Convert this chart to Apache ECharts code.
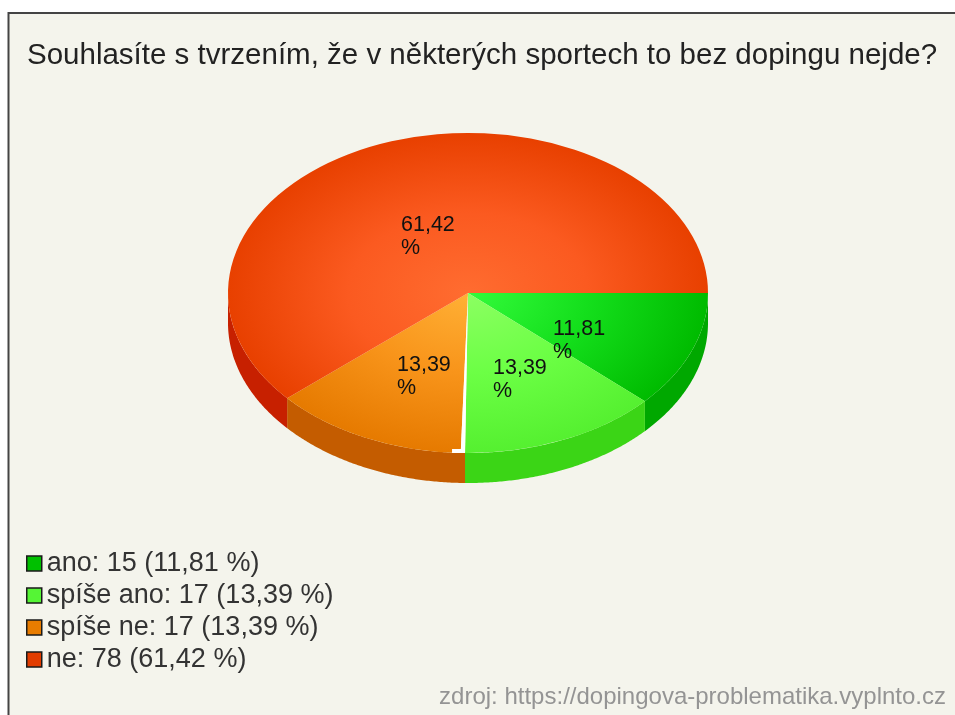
<!DOCTYPE html>
<html><head><meta charset="utf-8">
<style>html,body{margin:0;padding:0;background:#fff}#c{width:955px;height:715px}</style>
<script src="https://cdn.jsdelivr.net/npm/echarts@6/dist/echarts.min.js"></script>
</head><body><div id="c"></div>
<script>
const titleText = 'Souhlasíte s tvrzením, že v některých sportech to bez dopingu nejde?';
const sourceText = 'zdroj: https://dopingova-problematika.vyplnto.cz';
const categories = ['ano', 'spíše ano', 'spíše ne', 'ne'];
const values = [15, 17, 17, 78];
const percents = ['11,81', '13,39', '13,39', '61,42'];

const swatch = ['#00c000', '#55f535', '#e87c00', '#e23c00'];
const topInner = ['#33fb3b', '#8cff62', '#ffb035', '#ff6c30'];
const topMid = ['#14df1c', '#6cff45', '#f8941a', '#fb5a20'];
const topOuter = ['#00bb00', '#55f030', '#e67a00', '#e84000'];
const wall = ['#00a800', '#3bd516', '#c45c00', '#c72000'];

const cx = 468, cy = 293, rx = 240, ry = 160, depth = 30;
const labelAt = [[553, 341], [493, 380], [397, 377], [401, 237]];
const total = values.reduce((a, b) => a + b, 0);
let run = 0;
const spans = values.map(v => { const s = run / total * 2 * Math.PI; run += v; return [s, run / total * 2 * Math.PI]; });

function renderSlice(i) {
  return function () {
    let [a0, a1] = spans[i];
    const children = [];
    const w0 = a0, w1 = Math.min(a1, Math.PI);
    if (w1 > w0) {
      const up = [], down = [];
      for (let a = w0; a < w1; a += 0.008) {
        up.push([cx + rx * Math.cos(a), cy + ry * Math.sin(a)]);
        down.unshift([cx + rx * Math.cos(a), cy + depth + ry * Math.sin(a)]);
      }
      up.push([cx + rx * Math.cos(w1), cy + ry * Math.sin(w1)]);
      down.unshift([cx + rx * Math.cos(w1), cy + depth + ry * Math.sin(w1)]);
      children.push({ type: 'polygon', z2: 1, shape: { points: up.concat(down) }, style: { fill: wall[i] } });
    }
    const gap = i === 2 ? 0.018 : 0;
    children.push({
      type: 'sector', z2: 2, x: cx, y: cy, scaleY: ry / rx,
      shape: { cx: 0, cy: 0, r0: 0, r: rx, startAngle: a0 + gap, endAngle: a1, clockwise: true },
      style: { fill: new echarts.graphic.RadialGradient(0, 0, rx, [
        { offset: 0, color: topInner[i] }, { offset: 0.5, color: topMid[i] }, { offset: 1, color: topOuter[i] }], true) }
    });
    if (i === 2) {
      const ex = cx + rx * Math.cos(a0), ey = cy + ry * Math.sin(a0);
      children.push({ type: 'sector', z2: 2, x: cx, y: cy, scaleY: ry / rx,
        shape: { cx: 0, cy: 0, r0: 0, r: rx - 1, startAngle: a0, endAngle: a0 + gap, clockwise: true },
        style: { fill: '#ffffff' } });
      children.push({ type: 'rect', z2: 3, shape: { x: ex - 13, y: ey - 4, width: 13, height: 4 }, style: { fill: '#ffffff' } });
    }
    children.push({
      type: 'text', z2: 5, x: labelAt[i][0], y: labelAt[i][1],
      style: { text: percents[i] + '\n%', fill: '#111111', font: '21.5px "Liberation Sans"', lineHeight: 23, align: 'left', verticalAlign: 'middle' }
    });
    return { type: 'group', children };
  };
}

const legendNames = categories.map((c, i) => `${c}: ${values[i]} (${percents[i]} %)`);
const chart = echarts.init(document.getElementById('c'), null, { renderer: 'canvas' });
chart.setOption({
  animation: false,
  backgroundColor: '#ffffff',
  title: { text: titleText, left: 27, top: 41, padding: 0, textStyle: { fontFamily: 'Liberation Sans', fontSize: 29.5, fontWeight: 'normal', color: '#222222' } },
  legend: {
    orient: 'vertical', left: 26, top: 550, itemWidth: 15, itemHeight: 15, itemGap: 5, selectedMode: false,
    icon: 'rect', padding: 0,
    textStyle: { fontFamily: 'Liberation Sans', fontSize: 27, color: '#333333', padding: [0, 0, 0, 0], lineHeight: 26 },
    data: legendNames.map((n, i) => ({ name: n, itemStyle: { color: swatch[i], borderColor: '#1a1a1a', borderWidth: 1.5 } }))
  },
  graphic: [
    { type: 'rect', z: -1, shape: { x: 8.5, y: 13, width: 960, height: 720 }, style: { fill: '#f4f4ec', stroke: '#444444', lineWidth: 2 } },
    { type: 'text', z: 1, x: 946, y: 697, style: { text: sourceText, align: 'right', verticalAlign: 'middle', font: '24px "Liberation Sans"', fill: '#949494' } }
  ],
  series: categories.map((c, i) => ({
    type: 'custom', name: legendNames[i], coordinateSystem: 'none', silent: true,
    itemStyle: { color: swatch[i] }, data: [values[i]], renderItem: renderSlice(i)
  }))
});
</script></body></html>
